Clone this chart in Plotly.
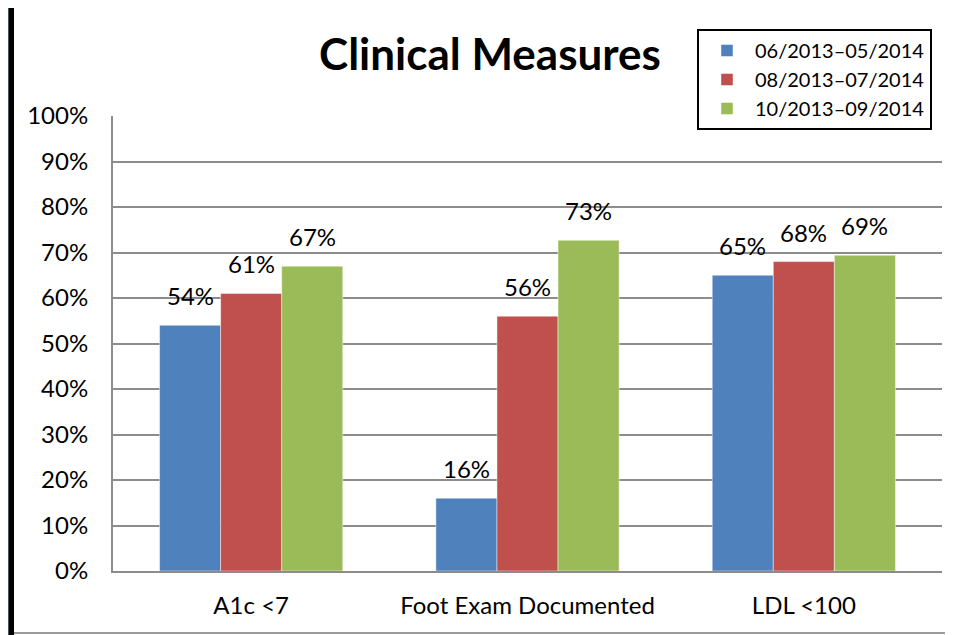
import plotly.graph_objects as go

categories = ["A1c <7", "Foot Exam Documented", "LDL <100"]
series_names = ["06/2013–05/2014", "08/2013–07/2014", "10/2013–09/2014"]
series_values = [
    [0.54, 0.16, 0.65],
    [0.61, 0.56, 0.68],
    [0.67, 0.727, 0.694],
]
series_colors = ["#4F81BD", "#C0504D", "#9BBB59"]
y_ticks = [i / 10 for i in range(11)]
y_tick_labels = [f"{i*10}%" for i in range(11)]

FONT = "Lato, 'Open Sans', sans-serif"

# browser body margin offsets the figure by 8px; screen coords -> figure coords
OFF = 8
W, H = 953, 635
L = 113 - OFF
T = 116 - OFF
R = W - (942 - OFF)
B = H - (571 - OFF)
pw, ph = W - L - R, H - T - B

def px(x):
    return (x - OFF - L) / pw

def py(y):
    return (H - B - (y - OFF)) / ph

BARGAP = 0.337
n = len(series_names)
cat_px = pw / len(categories)
bar_px = cat_px * (1 - BARGAP) / n

fig = go.Figure()
annotations = []
for i, (name, vals, col) in enumerate(zip(series_names, series_values, series_colors)):
    fig.add_trace(go.Bar(
        x=categories, y=vals, name=name,
        marker=dict(color=col, line=dict(color="rgba(255,255,255,0.45)", width=1)),
        legendgroup=name,
    ))
    for c, v in zip(categories, vals):
        annotations.append(dict(
            x=c, y=v, xref="x", yref="y", text=f"{round(v*100)}%",
            showarrow=False, yanchor="bottom", xanchor="center",
            xshift=(i - (n - 1) / 2) * bar_px, yshift=13,
            font=dict(family=FONT, size=24, color="#000000"),
        ))

shapes = [
    dict(type="rect", xref="paper", yref="paper", x0=px(8), x1=px(9), y0=py(H + OFF), y1=py(OFF),
         fillcolor="#4d565c", line=dict(width=0), layer="below"),
    dict(type="rect", xref="paper", yref="paper", x0=px(9), x1=px(14), y0=py(H + OFF), y1=py(OFF),
         fillcolor="#000000", line=dict(width=0), layer="below"),
    dict(type="line", xref="paper", yref="paper", x0=px(14), x1=px(W + OFF), y0=py(633), y1=py(633),
         line=dict(color="#9a9a9a", width=2), layer="below"),
]

fig.update_layout(
    width=W, height=H,
    margin=dict(l=L, r=R, t=T, b=B, pad=0),
    paper_bgcolor="#ffffff", plot_bgcolor="#ffffff",
    barmode="group", bargap=BARGAP, bargroupgap=0,
    font=dict(family=FONT, size=24, color="#000000"),
    title=dict(text="<b>Clinical Measures</b>", x=(490 - OFF) / W, xanchor="center",
               y=1 - (55 - OFF) / H, yanchor="middle", yref="container",
               font=dict(family=FONT, size=44, color="#000000")),
    legend=dict(x=px(697), y=py(29), xanchor="left", yanchor="top",
                bordercolor="#000000", borderwidth=2, bgcolor="#ffffff",
                font=dict(family=FONT, size=20, color="#000000"),
                traceorder="grouped", tracegroupgap=0, itemwidth=46),
    xaxis=dict(showgrid=False, showline=True, linecolor="#8c8c8c", linewidth=2,
               ticks="", tickfont=dict(size=24), ticklabelstandoff=12),
    yaxis=dict(range=[0, 1], tickvals=y_ticks, ticktext=y_tick_labels,
               showgrid=True, gridcolor="#8c8c8c", gridwidth=1.5,
               showline=True, linecolor="#8c8c8c", linewidth=2,
               ticks="", tickfont=dict(size=24), ticklabelstandoff=18, zeroline=False),
    shapes=shapes,
    annotations=annotations,
)

fig.write_html("out.html")
